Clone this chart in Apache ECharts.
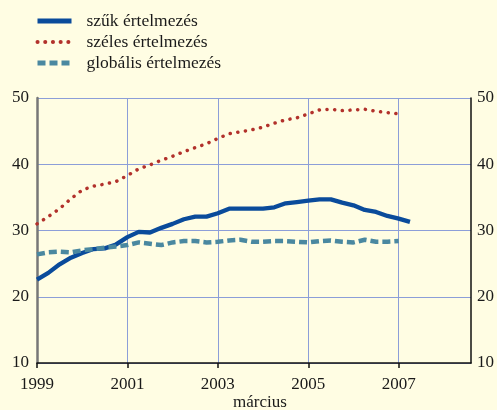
<!DOCTYPE html>
<html lang="hu">
<head>
  <meta charset="utf-8">
  <title>Értelmezések</title>
  <style>
    html, body { margin: 0; padding: 0; background: #fffde3; }
    #container { width: 497px; height: 410px; }
  </style>
</head>
<body>
  <div id="container"></div>
  <script src="https://cdn.jsdelivr.net/npm/echarts@6/dist/echarts.min.js"></script>
  <script>
    // negyedéves adatok, március 1999-től
    var quarters = ['1999-03','1999-06','1999-09','1999-12','2000-03','2000-06','2000-09','2000-12',
      '2001-03','2001-06','2001-09','2001-12','2002-03','2002-06','2002-09','2002-12',
      '2003-03','2003-06','2003-09','2003-12','2004-03','2004-06','2004-09','2004-12',
      '2005-03','2005-06','2005-09','2005-12','2006-03','2006-06','2006-09','2006-12',
      '2007-03','2007-06'];
    var szuk = [22.6,23.6,24.9,25.9,26.6,27.2,27.3,27.9,29.0,29.8,29.7,30.4,31.0,31.7,32.1,32.1,
      32.6,33.3,33.3,33.3,33.3,33.5,34.1,34.3,34.5,34.7,34.7,34.2,33.8,33.1,32.8,32.2,31.8,31.3];
    var szeles = [31.0,32.1,33.3,34.8,36.1,36.7,37.0,37.4,38.3,39.3,39.9,40.6,41.2,41.9,42.5,43.1,
      43.9,44.6,44.9,45.2,45.6,46.2,46.7,47.0,47.6,48.2,48.3,48.1,48.2,48.3,48.0,47.8,47.6];
    var globalis = [26.4,26.7,26.8,26.7,27.0,27.2,27.4,27.6,27.8,28.2,28.0,27.8,28.2,28.4,28.4,28.2,
      28.3,28.5,28.6,28.3,28.3,28.4,28.4,28.3,28.2,28.4,28.5,28.3,28.2,28.6,28.3,28.3,28.4];
    var yearTicks = [0, 2, 4, 6, 8];

    // évek 1999 márciusától
    function toYears(s) {
      var p = s.split('-');
      return (+p[0] - 1999) + (+p[1] - 3) / 12;
    }
    function pairs(vals) {
      return vals.map(function (v, i) { return [toYears(quarters[i]), v]; });
    }

    var serif = '"Liberation Serif", "DejaVu Serif", serif';
    var chart = echarts.init(document.getElementById('container'));

    var yCommon = {
      type: 'value', min: 10, max: 50, interval: 10,
      axisTick: { show: false },
      axisLabel: { fontFamily: serif, fontSize: 17, color: '#1a1a1a' }
    };

    chart.setOption({
      backgroundColor: '#fffde3',
      animation: false,
      grid: { left: 37, right: 26, top: 98, bottom: 47 },
      legend: {
        orient: 'vertical', left: 35, top: 12, padding: 0,
        itemWidth: 34, itemHeight: 10, itemGap: 3,
        itemStyle: { opacity: 0 },
        textStyle: { fontFamily: serif, fontSize: 17.5, color: '#1a1a1a', lineHeight: 18, padding: [0, 0, 0, 10] },
        data: [
          { name: 'szűk értelmezés', lineStyle: { width: 5 } },
          { name: 'széles értelmezés', lineStyle: { width: 4 } },
          { name: 'globális értelmezés', lineStyle: { width: 5 } }
        ]
      },
      xAxis: {
        type: 'value', min: 0, max: 9.6, interval: 2,
        axisLine: { lineStyle: { color: '#111', width: 1.5 } },
        axisTick: { show: true, length: 5, customValues: yearTicks, lineStyle: { color: '#111', width: 1.5 } },
        axisLabel: {
          customValues: yearTicks, margin: 13,
          fontFamily: serif, fontSize: 17, color: '#1a1a1a',
          formatter: function (v) { return String(1999 + v); }
        },
        splitLine: { show: true, lineStyle: { color: '#8c9ed8', width: 1 } }
      },
      yAxis: [
        Object.assign({}, yCommon, {
          position: 'left',
          axisLine: { show: true, lineStyle: { color: '#777', width: 2.5 } },
          axisLabel: Object.assign({}, yCommon.axisLabel, { margin: 8 }),
          splitLine: { show: true, lineStyle: { color: '#8c9ed8', width: 1 } }
        }),
        Object.assign({}, yCommon, {
          position: 'right',
          axisLine: { show: true, lineStyle: { color: '#111', width: 1.5 } },
          axisLabel: Object.assign({}, yCommon.axisLabel, { margin: 6 }),
          splitLine: { show: false }
        })
      ],
      graphic: [{
        type: 'text', left: 233, top: 394,
        style: { text: 'március', fontFamily: serif, fontSize: 17, fill: '#1a1a1a' }
      }],
      series: [
        {
          name: 'szűk értelmezés', type: 'line', symbol: 'none',
          lineStyle: { color: '#0a4b9b', width: 4.3 },
          itemStyle: { color: '#0a4b9b' },
          data: pairs(szuk)
        },
        {
          name: 'széles értelmezés', type: 'line', symbol: 'none',
          lineStyle: { color: '#b2312b', width: 3.5, type: [0.1, 7.6], cap: 'round' },
          itemStyle: { color: '#b2312b' },
          data: pairs(szeles)
        },
        {
          name: 'globális értelmezés', type: 'line', symbol: 'none',
          lineStyle: { color: '#4a88a0', width: 4.5, type: [8, 4] },
          itemStyle: { color: '#4a88a0' },
          data: pairs(globalis)
        }
      ]
    });
  </script>
</body>
</html>
